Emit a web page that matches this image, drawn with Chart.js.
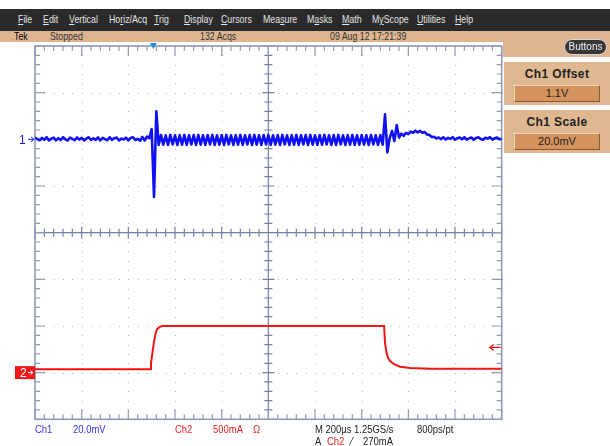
<!DOCTYPE html>
<html>
<head>
<meta charset="utf-8">
<script src="https://cdn.jsdelivr.net/npm/chart.js@4.4.0/dist/chart.umd.min.js"></script>
<style>
  body { margin: 0; width: 610px; height: 446px; overflow: hidden; background: #fff; position: relative;
    font-family: "Liberation Sans", Arial, sans-serif; }
  #scope { position: absolute; left: 0; top: 0; z-index: 0; }
  .abs { position: absolute; white-space: nowrap; z-index: 1; }
  .n { display: inline-block; transform: scaleX(0.8); transform-origin: 0 50%; }
  #menu { left: 0; top: 9px; width: 610px; height: 22px; background: #2a2a2a; }
  #menu span { position: absolute; top: 4px; color: #e4e4e4; font-size: 11px; line-height: 12px; }
  #status { left: 0; top: 31px; width: 610px; height: 11px; background: #deb590; }
  #status span { position: absolute; top: -1px; font-size: 11px; line-height: 12px; color: #333; }
  #rtop { left: 503px; top: 31px; width: 107px; height: 26px; background: #deb590; }
  #btn { left: 564px; top: 39px; width: 41px; height: 14px; background: #383838; border: 1px solid #d8d8d8;
    border-radius: 8px; color: #f0f0f0; font-size: 10px; line-height: 14px; text-align: center; }
  .panel { left: 504px; width: 106px; height: 43px; background: #dfb892; }
  .panel b { position: absolute; left: 0; width: 106px; top: 5px; text-align: center; font-size: 12px;
    letter-spacing: 0.4px; color: #222; }
  .panel i { position: absolute; left: 10px; top: 23px; width: 84px; height: 15px; background: #d4935c;
    border: 1px solid; border-color: #f2d4b4 #8a5a30 #8a5a30 #f2d4b4; font-style: normal; font-size: 11px;
    line-height: 15px; text-align: center; color: #222; }
  .bt { font-size: 11px; line-height: 12px; transform: scaleX(0.86); transform-origin: 0 50%; }
</style>
</head>
<body>
<canvas id="scope" width="610" height="446"></canvas>

<div class="abs" id="menu">
  <span class="n" style="left:18px"><u>F</u>ile</span>
  <span class="n" style="left:43px"><u>E</u>dit</span>
  <span class="n" style="left:69px"><u>V</u>ertical</span>
  <span class="n" style="left:109px">Ho<u>r</u>iz/Acq</span>
  <span class="n" style="left:154px"><u>T</u>rig</span>
  <span class="n" style="left:184px"><u>D</u>isplay</span>
  <span class="n" style="left:221px"><u>C</u>ursors</span>
  <span class="n" style="left:263px">Mea<u>s</u>ure</span>
  <span class="n" style="left:307px">M<u>a</u>sks</span>
  <span class="n" style="left:342px"><u>M</u>ath</span>
  <span class="n" style="left:372px">M<u>y</u>Scope</span>
  <span class="n" style="left:417px"><u>U</u>tilities</span>
  <span class="n" style="left:455px"><u>H</u>elp</span>
</div>
<div class="abs" id="status">
  <span class="n" style="left:14px;color:#000">Tek</span>
  <span class="n" style="left:50px">Stopped</span>
  <span class="n" style="left:200px">132 Acqs</span>
  <span class="n" style="left:330px">09 Aug 12 17:21:39</span>
</div>
<div class="abs" id="rtop"></div>
<div class="abs" id="btn">Buttons</div>
<div class="abs panel" style="top:62px"><b>Ch1 Offset</b><i>1.1V</i></div>
<div class="abs panel" style="top:110px"><b>Ch1 Scale</b><i>20.0mV</i></div>

<div class="abs bt" style="left:35px;top:423px;color:#3434f0">Ch1</div>
<div class="abs bt" style="left:73px;top:423px;color:#3434f0">20.0mV</div>
<div class="abs bt" style="left:175px;top:423px;color:#f02020">Ch2</div>
<div class="abs bt" style="left:213px;top:423px;color:#f02020">500mA</div>
<div class="abs bt" style="left:253px;top:423px;color:#f02020">Ω</div>
<div class="abs bt" style="left:315px;top:423px;color:#222">M 200µs 1.25GS/s</div>
<div class="abs bt" style="left:417px;top:423px;color:#222">800ps/pt</div>
<div class="abs bt" style="left:315px;top:435px;color:#222">A</div>
<div class="abs bt" style="left:327px;top:435px;color:#f02020">Ch2</div>
<div class="abs bt" style="left:351px;top:435px;color:#222">⁄</div>
<div class="abs bt" style="left:363px;top:435px;color:#222">270mA</div>

<script>
// horizontal: 200 µs/div, 10 divisions, time from left edge of screen
const timeGrid = [0, 200, 400, 600, 800, 1000, 1200, 1400, 1600, 1800, 2000];
// Ch1: 20 mV/div, marker (0 mV) two divisions above centre
const ch1Grid = [-120, -100, -80, -60, -40, -20, 0, 20, 40];
// Ch2: 500 mA/div, ground one division above bottom
const ch2Range = [-500, 3500];
const triggerTime = 507;   // µs
const triggerLevel = 270;  // mA

// Ch1 samples every 10 µs, mV relative to the Ch1 marker
const ch1Step = 10;
const ch1Values = [
  0.8, 0.1, -0.4, 0.6, -0.2, 0.9, -0.5, 0.3, 0.7, -0.4,
  0.5, -0.3, 0.9, 0.0, -0.5, 0.7, 0.2, -0.4, 0.8, -0.1,
  0.6, -0.5, 0.3, 0.9, -0.3, 0.4, -0.2, 0.8, -0.5, 0.6,
  0.1, -0.4, 0.9, -0.2, 0.5, 0.8, -0.5, 0.3, -0.1, 0.7,
  -0.4, 0.6, 0.9, -0.3, 0.2, -0.6, 1.0, -0.5, 1.2, 0.5,
  4.4, -24.7, 12.0, -2.4, 1.8, -2.3, 1.7, -2.4, 1.9, -2.2,
  1.7, -2.4, 1.8, -2.3, 1.9, -2.4, 1.7, -2.2, 1.8, -2.4,
  1.9, -2.3, 1.7, -2.4, 1.8, -2.2, 1.9, -2.4, 1.7, -2.3,
  1.8, -2.4, 1.9, -2.2, 1.7, -2.4, 1.8, -2.3, 1.9, -2.4,
  1.7, -2.2, 1.8, -2.4, 1.9, -2.3, 1.7, -2.4, 1.8, -2.2,
  1.9, -2.4, 1.7, -2.3, 1.8, -2.4, 1.9, -2.2, 1.7, -2.4,
  1.8, -2.3, 1.9, -2.4, 1.7, -2.2, 1.8, -2.4, 1.9, -2.3,
  1.7, -2.4, 1.8, -2.3, 1.9, -2.2, 1.7, -2.4, 1.8, -2.4,
  1.9, -2.2, 1.7, -2.4, 1.8, -2.3, 1.9, -2.4, 1.7, -2.3,
  1.8, -2.3, 1.7, -2.4, 1.9, -2.2, 1.7, -2.4, 1.8, -2.3,
  10.7, -5.6, 0.5, 3.6, -0.7, 6.1, 0.8, 2.4, 1.5, 2.8,
  2.2, 3.3, 2.8, 3.7, 3.0, 3.6, 2.8, 3.1, 2.1, 1.9,
  1.0, 1.1, 0.4, 0.8, 0.1, 0.9, -0.1, 0.6, 0.2, 0.9,
  -0.2, 0.5, 0.8, 0.0, 0.9, -0.1, 0.4, 0.8, -0.2, 0.6,
  0.9, 0.1, -0.2, 0.7, 0.3, 0.9, -0.1, 0.5, 0.8, 0.0,
  0.3,
];

// Ch2 current, µs / mA
const ch2Times = [0, 493, 497, 503, 510, 517, 524, 536, 550, 1496, 1500, 1507, 1514, 1524, 1539, 1564, 1607, 1693, 2000];
const ch2Values = [36, 36, 100, 208, 332, 422, 468, 493, 500, 500, 315, 207, 154, 118, 90, 64, 50, 42, 42];

const gridColor = "#9199b5";
const centerColor = "#7880a4";
const dotColor = "#aeb2c6";

const graticule = {
  id: "graticule",
  beforeDatasetsDraw(chart) {
    const { ctx, chartArea: a, scales } = chart;
    const xs = timeGrid.map((t) => scales.x.getPixelForValue(t));
    const ys = ch1Grid.map((v) => scales.y.getPixelForValue(v));
    const minor = (arr) => {
      const out = [];
      for (let i = 0; i < arr.length - 1; i++) {
        for (let k = 0; k < 5; k++) out.push({ p: arr[i] + (arr[i + 1] - arr[i]) * k / 5, major: k === 0 });
      }
      out.push({ p: arr[arr.length - 1], major: true });
      return out;
    };
    const mx = minor(xs);
    const my = minor(ys);
    const cx = xs[5];
    const cy = ys[4];
    ctx.save();
    // dotted grid
    ctx.fillStyle = dotColor;
    xs.forEach((x, i) => {
      if (i === 0 || i === xs.length - 1 || i === 5) return;
      my.forEach((m) => ctx.fillRect(Math.round(x), Math.round(m.p), 1, 1));
    });
    ys.forEach((y, i) => {
      if (i === 0 || i === ys.length - 1 || i === 4) return;
      mx.forEach((m) => ctx.fillRect(Math.round(m.p), Math.round(y), 1, 1));
    });
    // centre cross
    ctx.strokeStyle = centerColor;
    ctx.lineWidth = 1.2;
    ctx.beginPath();
    ctx.moveTo(cx, a.top); ctx.lineTo(cx, a.bottom);
    ctx.moveTo(a.left, cy); ctx.lineTo(a.right, cy);
    mx.forEach((m) => { const l = m.major ? 6 : 4; ctx.moveTo(m.p, cy - l); ctx.lineTo(m.p, cy + l); });
    my.forEach((m) => { const l = m.major ? 6 : 4; ctx.moveTo(cx - l, m.p); ctx.lineTo(cx + l, m.p); });
    ctx.stroke();
    // border with ticks
    ctx.strokeStyle = gridColor;
    ctx.lineWidth = 1.6;
    ctx.strokeRect(a.left, a.top, a.right - a.left, a.bottom - a.top);
    ctx.lineWidth = 1.2;
    ctx.beginPath();
    mx.forEach((m) => {
      const l = m.major ? 10 : 5;
      ctx.moveTo(m.p, a.top); ctx.lineTo(m.p, a.top + l);
      ctx.moveTo(m.p, a.bottom); ctx.lineTo(m.p, a.bottom - l);
    });
    my.forEach((m) => {
      const l = m.major ? 10 : 5;
      ctx.moveTo(a.left, m.p); ctx.lineTo(a.left + l, m.p);
      ctx.moveTo(a.right, m.p); ctx.lineTo(a.right - l, m.p);
    });
    ctx.stroke();
    ctx.restore();
  },
  afterDraw(chart) {
    const { ctx, chartArea: a, scales } = chart;
    ctx.save();
    // Ch1 marker
    const y1 = scales.y.getPixelForValue(0);
    ctx.fillStyle = "#2020f0";
    ctx.strokeStyle = "#2020f0";
    ctx.font = "12px 'Liberation Sans', Arial, sans-serif";
    ctx.textBaseline = "middle";
    ctx.fillText("1", 19, y1 + 1);
    ctx.lineWidth = 1;
    ctx.beginPath();
    ctx.moveTo(28, y1); ctx.lineTo(34, y1);
    ctx.moveTo(31, y1 - 2.5); ctx.lineTo(34, y1); ctx.lineTo(31, y1 + 2.5);
    ctx.stroke();
    // Ch2 ground marker
    const y2 = scales.y2.getPixelForValue(0);
    ctx.fillStyle = "#f01818";
    ctx.fillRect(15, y2 - 6.5, 20, 13);
    ctx.fillStyle = "#fff";
    ctx.strokeStyle = "#fff";
    ctx.fillText("2", 20, y2 + 1);
    ctx.beginPath();
    ctx.moveTo(28, y2); ctx.lineTo(33, y2);
    ctx.moveTo(30.5, y2 - 2); ctx.lineTo(33, y2); ctx.lineTo(30.5, y2 + 2);
    ctx.stroke();
    // trigger position
    const tx = scales.x.getPixelForValue(triggerTime);
    ctx.fillStyle = "#1e8fdc";
    ctx.beginPath();
    ctx.moveTo(tx - 3.5, a.top - 3); ctx.lineTo(tx + 3.5, a.top - 3); ctx.lineTo(tx, a.top + 3);
    ctx.closePath();
    ctx.fill();
    // trigger level
    const ty = scales.y2.getPixelForValue(triggerLevel);
    ctx.strokeStyle = "#f01818";
    ctx.lineWidth = 1.3;
    ctx.beginPath();
    ctx.moveTo(a.right - 1, ty); ctx.lineTo(a.right - 12, ty);
    ctx.moveTo(a.right - 8, ty - 3); ctx.lineTo(a.right - 12, ty); ctx.lineTo(a.right - 8, ty + 3);
    ctx.stroke();
    ctx.restore();
  },
};

new Chart(document.getElementById("scope"), {
  type: "line",
  data: {
    datasets: [
      {
        label: "Ch2",
        data: ch2Times.map((t, i) => ({ x: t, y: ch2Values[i] })),
        yAxisID: "y2",
        borderColor: "#f41414",
        borderWidth: 2,
        pointRadius: 0,
        tension: 0,
      },
      {
        label: "Ch1",
        data: ch1Values.map((v, i) => ({ x: i * ch1Step, y: v })),
        yAxisID: "y",
        borderColor: "#1010f4",
        borderWidth: 2.6,
        borderJoinStyle: "round",
        pointRadius: 0,
        tension: 0,
      },
    ],
  },
  options: {
    responsive: false,
    animation: false,
    events: [],
    layout: { padding: { left: 35, top: 46, right: 108.3, bottom: 26.7 } },
    plugins: { legend: { display: false }, tooltip: { enabled: false } },
    scales: {
      x: { type: "linear", min: timeGrid[0], max: timeGrid[timeGrid.length - 1], display: false },
      y: { min: ch1Grid[0], max: ch1Grid[ch1Grid.length - 1], display: false },
      y2: { min: ch2Range[0], max: ch2Range[1], display: false },
    },
  },
  plugins: [graticule],
});
</script>
</body>
</html>
